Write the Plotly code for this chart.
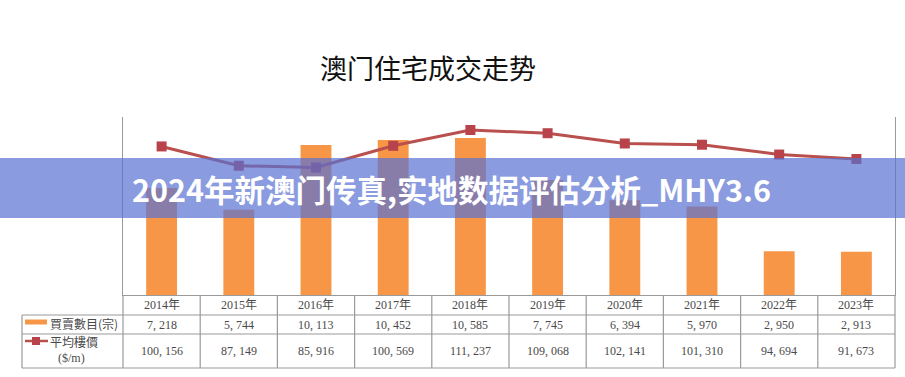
import plotly.graph_objects as go

years = ["2014年", "2015年", "2016年", "2017年", "2018年", "2019年", "2020年", "2021年", "2022年", "2023年"]
deals = [7218, 5744, 10113, 10452, 10585, 7745, 6394, 5970, 2950, 2913]
prices = [100156, 87149, 85916, 100569, 111237, 109068, 102141, 101310, 94694, 91673]

row_label_deals = "買賣數目(宗)"
row_label_price = "平均樓價"
row_label_unit = "($/m)"
title_text = "澳门住宅成交走势"
banner_text = "2024年新澳门传真,实地数据评估分析_MHY3.6"

W, H = 905, 377
ML, MR, MT, MB = 123, 10, 117, 82
PW, PH = W - ML - MR, H - MT - MB


def px_x(px):
    return (px - ML) / PW


def px_y(py):
    return (H - MB - py) / PH


def fmt(v):
    return f"{v:,}".replace(",", ", ")


BAR = "#F79646"
LINE = "#B9504D"
GRID = "#9a9a9a"
TXT = "#4a4a4a"
TFONT = "Liberation Serif, Noto Sans CJK TC, serif"
LFONT = "Noto Sans CJK TC, Liberation Serif, serif"

fig = go.Figure()
fig.add_trace(go.Bar(x=years, y=deals, marker=dict(color=BAR, line=dict(width=0)),
                     width=0.4, yaxis="y", showlegend=False))
fig.add_trace(go.Scatter(x=years, y=prices, mode="lines+markers", yaxis="y2",
                         line=dict(color=LINE, width=3),
                         marker=dict(symbol="square", size=10, color="#B8434A"),
                         showlegend=False))

shapes = []
annotations = []

# table grid
n = len(years)
y_rows = [295, 315, 334, 368]
for py in y_rows[1:]:
    shapes.append(dict(type="line", xref="paper", yref="paper", x0=px_x(22), x1=1,
                       y0=px_y(py), y1=px_y(py), line=dict(color=GRID, width=1.2)))
shapes.append(dict(type="line", xref="paper", yref="paper", x0=px_x(22), x1=px_x(22),
                   y0=px_y(315), y1=px_y(368), line=dict(color=GRID, width=1.2)))
shapes.append(dict(type="line", xref="paper", yref="paper", x0=0, x1=0,
                   y0=0, y1=px_y(368), line=dict(color=GRID, width=1.2)))
shapes.append(dict(type="line", xref="paper", yref="paper", x0=1, x1=1,
                   y0=0, y1=px_y(368), line=dict(color=GRID, width=1.2)))
for i in range(n - 1):
    shapes.append(dict(type="line", xref="x", yref="paper", x0=i + 0.5, x1=i + 0.5,
                       y0=0, y1=px_y(368), line=dict(color=GRID, width=1.2)))

for i, yr in enumerate(years):
    annotations.append(dict(x=yr, xref="x", y=px_y(305), yref="paper", text=yr,
                            xanchor="center", yanchor="middle",
                            showarrow=False, font=dict(family=TFONT, size=12, color=TXT)))
    annotations.append(dict(x=yr, xref="x", y=px_y(324.5), yref="paper", text=fmt(deals[i]),
                            xanchor="center", yanchor="middle",
                            showarrow=False, font=dict(family=TFONT, size=12, color=TXT)))
    annotations.append(dict(x=yr, xref="x", y=px_y(351), yref="paper", text=fmt(prices[i]),
                            xanchor="center", yanchor="middle",
                            showarrow=False, font=dict(family=TFONT, size=12, color=TXT)))

# row labels with legend swatches
shapes.append(dict(type="line", xref="paper", yref="paper", x0=px_x(25), x1=px_x(47),
                   y0=px_y(322), y1=px_y(322), line=dict(color=BAR, width=5)))
shapes.append(dict(type="line", xref="paper", yref="paper", x0=px_x(25), x1=px_x(48),
                   y0=px_y(341), y1=px_y(341), line=dict(color=LINE, width=2.5)))
shapes.append(dict(type="rect", xref="paper", yref="paper", x0=px_x(32), x1=px_x(40),
                   y0=px_y(337), y1=px_y(345), fillcolor="#B8434A", line=dict(width=0)))
annotations.append(dict(x=px_x(48), y=px_y(323), xref="paper", yref="paper",
                        xanchor="left", yanchor="middle",
                        text=row_label_deals, showarrow=False,
                        font=dict(family=LFONT, size=12, color=TXT)))
annotations.append(dict(x=px_x(48), y=px_y(341), xref="paper", yref="paper",
                        xanchor="left", yanchor="middle",
                        text=row_label_price, showarrow=False,
                        font=dict(family=LFONT, size=12, color=TXT)))
annotations.append(dict(x=px_x(71), y=px_y(358), xref="paper", yref="paper",
                        xanchor="center", yanchor="middle",
                        text=row_label_unit, showarrow=False,
                        font=dict(family=TFONT, size=12, color=TXT)))

# title
annotations.append(dict(x=px_x(428), y=px_y(67), xref="paper", yref="paper", text=title_text,
                        xanchor="center", yanchor="middle", showarrow=False,
                        font=dict(family="Noto Sans CJK SC", size=27, color="#111111")))

# banner
shapes.append(dict(type="rect", xref="paper", yref="paper", x0=px_x(0), x1=px_x(W),
                   y0=px_y(218), y1=px_y(158), fillcolor="rgba(88,112,211,0.7)",
                   line=dict(width=0), layer="above"))
annotations.append(dict(x=px_x(451.5), y=px_y(189), xref="paper", yref="paper",
                        text="<b>" + banner_text + "</b>",
                        xanchor="center", yanchor="middle", showarrow=False,
                        font=dict(family="Noto Sans CJK SC", size=30.5, color="white")))

fig.update_layout(
    width=W, height=H, autosize=False,
    margin=dict(l=ML, r=MR, t=MT, b=MB, pad=0),
    paper_bgcolor="white", plot_bgcolor="white",
    bargap=0.6,
    xaxis=dict(type="category", showline=True, linecolor=GRID, linewidth=1.2,
               showticklabels=False, ticks="", showgrid=False, zeroline=False,
               range=[-0.5, n - 0.5]),
    yaxis=dict(range=[0, 12000], showline=True, linecolor=GRID, linewidth=1.2,
               showticklabels=False, ticks="", showgrid=False, zeroline=False),
    yaxis2=dict(range=[0, 120000], overlaying="y", side="right", showline=True,
                linecolor=GRID, linewidth=1.2, showticklabels=False, ticks="",
                showgrid=False, zeroline=False),
    shapes=shapes,
    annotations=annotations,
)

fig.write_html(
    "out.html",
    config={"responsive": False, "displayModeBar": False},
    post_script="document.body.style.margin='0';document.body.style.overflow='hidden';",
)
